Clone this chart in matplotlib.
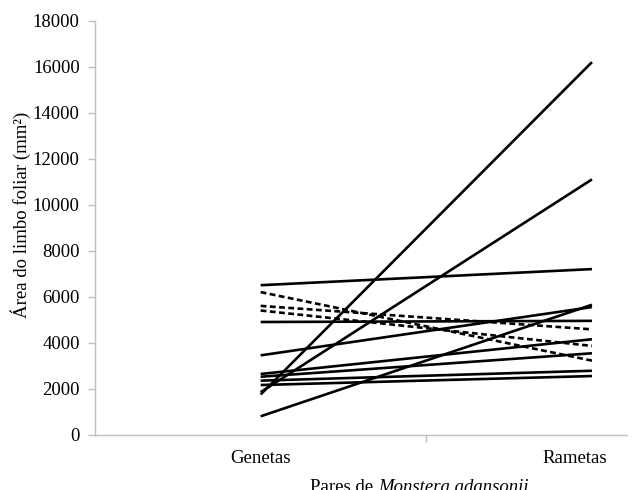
import matplotlib
matplotlib.use("Agg")
import matplotlib.pyplot as plt
import matplotlib.transforms as mtransforms

plt.rcParams['font.family'] = ['Liberation Serif', 'DejaVu Serif']

categories = ["Genetas", "Rametas"]

# Solid pairs (Genetas, Rametas)
solid_genetas = [6500, 4900, 3450, 800, 1750, 1850, 2640, 2520, 2350, 2160]
solid_rametas = [7200, 4950, 5550, 5650, 16200, 11100, 4150, 3540, 2780, 2550]

# Dashed pairs (Genetas, Rametas)
dashed_genetas = [6200, 5600, 5400]
dashed_rametas = [3220, 4580, 3860]

yticks = [0, 2000, 4000, 6000, 8000, 10000, 12000, 14000, 16000, 18000]

fig = plt.figure(figsize=(6.33, 4.90), dpi=100)
ax = fig.add_axes([95 / 633, 1 - 434.7 / 490, (627 - 95) / 633, (434.7 - 20.7) / 490])

xpos = list(range(len(categories)))
for g, r in zip(solid_genetas, solid_rametas):
    ax.plot(xpos, [g, r], color='black', lw=1.9, solid_capstyle='butt')
for g, r in zip(dashed_genetas, dashed_rametas):
    ax.plot(xpos, [g, r], color='black', lw=1.9, linestyle=(0, (2.2, 1.3)))

ax.set_xlim(-0.5, (627 - 261) / 331)
ax.set_ylim(0, 18000)
ax.set_yticks(yticks)
ax.set_yticklabels([str(v) for v in yticks], fontsize=13.5)
ax.set_xticks(xpos)
ax.set_xticklabels(categories, fontsize=13.5)
ax.set_xticks([0.5], minor=True)

for s in ['top', 'right']:
    ax.spines[s].set_visible(False)
for s in ['left', 'bottom']:
    ax.spines[s].set_color('#bfbfbf')
    ax.spines[s].set_linewidth(1.0)

ax.tick_params(axis='y', direction='out', length=5, width=1.0, color='#bfbfbf', pad=6)
ax.tick_params(axis='x', which='major', length=0, pad=11)
ax.tick_params(axis='x', which='minor', direction='out', length=5, width=1.0, color='#bfbfbf')

# shift the Rametas label slightly left as in the reference
offset = mtransforms.ScaledTranslation(-17 / 100, 0, fig.dpi_scale_trans)
labs = ax.get_xticklabels()
labs[1].set_transform(labs[1].get_transform() + offset)

fig.text(21 / 633, 1 - 215 / 490, "Área do limbo foliar (mm²)", rotation=90,
         ha='center', va='center', fontsize=13.5)
fig.text(378 / 633, 1 - 492 / 490, "Pares de ", ha='right', va='baseline', fontsize=13.5)
fig.text(378 / 633, 1 - 492 / 490, "Monstera adansonii", ha='left', va='baseline',
         fontsize=13.5, style='italic')

fig.savefig("out.png", dpi=100)
